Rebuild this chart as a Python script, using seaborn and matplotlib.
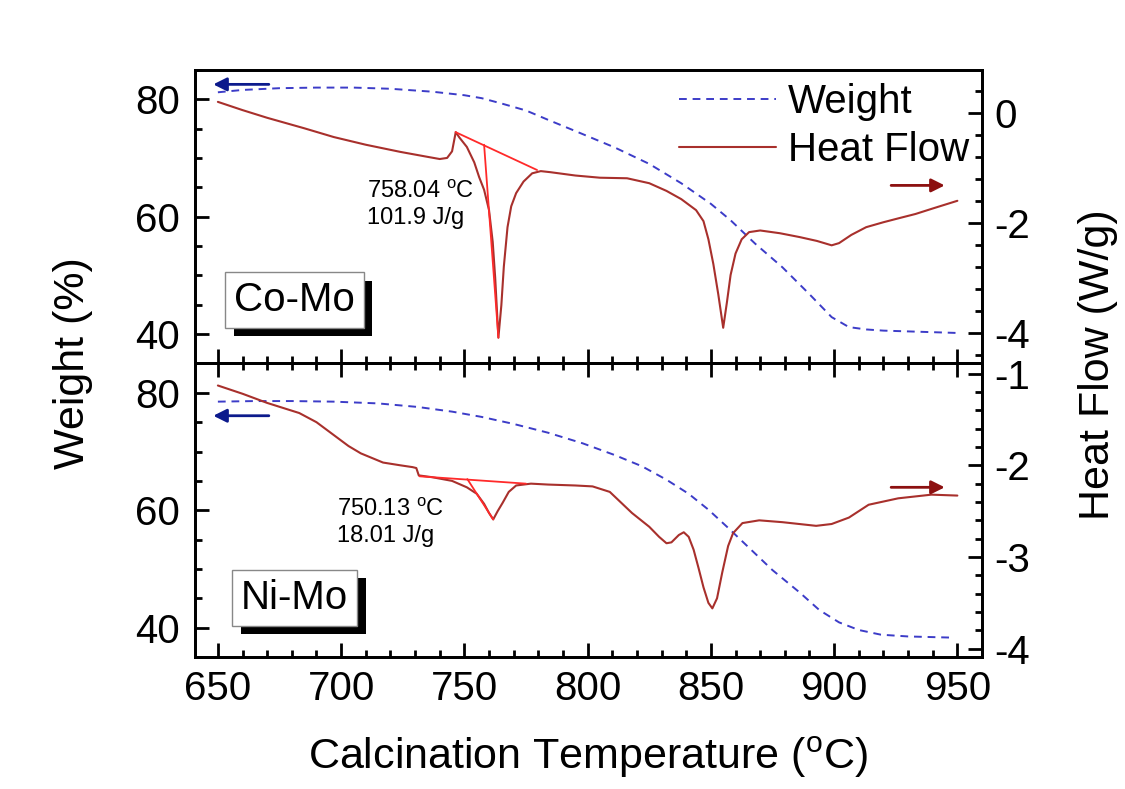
import numpy as np
import pandas as pd
import matplotlib
matplotlib.use("Agg")
import matplotlib.pyplot as plt
import matplotlib.patheffects as pe
from matplotlib.ticker import MultipleLocator
import seaborn as sns

# --- Co-Mo : weight (%) ---
co_w_temp = [650, 660, 675, 690, 705, 720, 737, 750, 757, 765, 775, 784, 795,
             811, 825, 838, 850, 858, 868, 879, 890, 899, 906, 913, 920, 935, 950]
co_w_val = [81.2, 81.6, 81.9, 82.0, 82.0, 81.8, 81.3, 80.7, 80.2, 79.3, 78.1,
            76.5, 74.6, 71.8, 69.0, 65.7, 62.2, 59.4, 55.4, 51.4, 46.8, 42.9,
            41.2, 40.8, 40.6, 40.4, 40.2]

# --- Co-Mo : heat flow (W/g) ---
co_h_temp = [650, 660, 670, 685, 697, 710, 724, 735, 740, 743, 745, 746.5, 748,
             751, 754, 756, 758, 760, 761.5, 762.5, 763.8, 765, 766, 767.5, 769,
             771, 774, 777.5, 781, 785, 795, 805, 816, 825, 832, 838, 844, 847,
             849, 851, 853, 855, 856.5, 858, 860, 862.5, 865.5, 870, 878, 886,
             893, 899, 902, 907, 913, 920, 926, 933, 940, 945, 950]
co_h_val = [0.20, 0.05, -0.09, -0.28, -0.44, -0.58, -0.71, -0.80, -0.84, -0.82,
            -0.70, -0.35, -0.45, -0.62, -0.90, -1.17, -1.40, -1.77, -2.35, -3.0,
            -4.09, -3.5, -2.8, -2.08, -1.70, -1.46, -1.25, -1.10, -1.06, -1.08,
            -1.14, -1.18, -1.19, -1.28, -1.42, -1.57, -1.77, -1.97, -2.3, -2.75,
            -3.3, -3.91, -3.45, -2.95, -2.56, -2.3, -2.17, -2.14, -2.19, -2.26,
            -2.33, -2.41, -2.37, -2.22, -2.08, -1.99, -1.92, -1.84, -1.74, -1.67,
            -1.6]

# --- Ni-Mo : weight (%) ---
ni_w_temp = [650, 665, 680, 697, 715, 731, 745, 757, 770, 784, 798, 811, 822,
             832, 841, 849, 857, 865, 875, 886, 894, 902, 910, 919, 930, 948]
ni_w_val = [78.5, 78.6, 78.6, 78.5, 78.2, 77.6, 76.8, 75.9, 74.7, 73.2, 71.4,
            69.4, 67.5, 65.2, 62.8, 60.1, 57.0, 53.8, 49.8, 46.0, 43.0, 40.9,
            39.6, 38.8, 38.5, 38.3]

# --- Ni-Mo : heat flow (W/g) ---
ni_h_temp = [650, 660, 670, 683, 690, 697, 703, 708, 717, 724, 729, 730.5,
             731.5, 737, 745, 751, 755, 758, 760, 761.7, 763.5, 765.5, 768, 771,
             777, 784, 795, 802, 809, 818, 825, 829, 832, 834, 837, 839, 841,
             843, 845, 847, 849, 850.6, 852.5, 854.6, 857, 859, 862.8, 869.6,
             879, 892.7, 899, 906, 914, 926, 939.5, 950]
ni_h_val = [-1.13, -1.22, -1.32, -1.43, -1.53, -1.67, -1.79, -1.87, -1.97, -2.0,
            -2.02, -2.03, -2.11, -2.13, -2.17, -2.24, -2.31, -2.42, -2.52, -2.59,
            -2.5, -2.41, -2.29, -2.22, -2.20, -2.21, -2.22, -2.23, -2.29, -2.52,
            -2.67, -2.78, -2.85, -2.84, -2.76, -2.73, -2.78, -2.92, -3.12, -3.33,
            -3.50, -3.56, -3.45, -3.17, -2.88, -2.74, -2.63, -2.60, -2.62, -2.66,
            -2.64, -2.57, -2.43, -2.36, -2.32, -2.33]

# peak integration construction lines (temp, heat flow)
co_base_t, co_base_h = [746.4, 779.5], [-0.35, -1.04]
co_drop_t, co_drop_h = [758, 763.8], [-0.58, -4.09]
ni_base_t, ni_base_h = [731.8, 775], [-2.12, -2.20]
ni_drop_t, ni_drop_h = [751.2, 761.7], [-2.15, -2.59]

co_note = "758.04 $^{\\mathrm{o}}$C\n101.9 J/g"
ni_note = "750.13 $^{\\mathrm{o}}$C\n18.01 J/g"

sns.set_style("ticks")
plt.rcParams['font.family'] = ['Liberation Sans', 'DejaVu Sans']
plt.rcParams['mathtext.fontset'] = 'custom'
plt.rcParams['mathtext.rm'] = 'Liberation Sans'
plt.rcParams['mathtext.it'] = 'Liberation Sans'
plt.rcParams['axes.unicode_minus'] = False
for key in ('text.color', 'axes.labelcolor', 'xtick.color', 'ytick.color',
            'axes.edgecolor'):
    plt.rcParams[key] = 'black'

W_COLOR = "#3c3cc8"
H_COLOR = "#a8302c"
FIT_COLOR = "#ff2a2a"

fig = plt.figure(figsize=(11.25, 7.89), dpi=100)
gs = fig.add_gridspec(2, 1, left=0.1733, right=0.8729, top=0.9113,
                      bottom=0.1673, hspace=0)
ax1 = fig.add_subplot(gs[0])
ax2 = fig.add_subplot(gs[1], sharex=ax1)
ax1r = ax1.twinx()
ax2r = ax2.twinx()

panels = [
    (ax1, ax1r, co_w_temp, co_w_val, co_h_temp, co_h_val,
     (co_base_t, co_base_h), (co_drop_t, co_drop_h)),
    (ax2, ax2r, ni_w_temp, ni_w_val, ni_h_temp, ni_h_val,
     (ni_base_t, ni_base_h), (ni_drop_t, ni_drop_h)),
]

for ax, axr, wt, wv, ht, hv, base, drop in panels:
    sns.lineplot(x=wt, y=wv, ax=ax, color=W_COLOR, lw=1.4, errorbar=None)
    ax.lines[-1].set_dashes([4, 3])
    sns.lineplot(x=ht, y=hv, ax=axr, color=H_COLOR, lw=1.5, errorbar=None)
    for seg_t, seg_h in (base, drop):
        axr.plot(seg_t, seg_h, color=FIT_COLOR, lw=1.3)

ax1.set_xlim(640.7, 960)
for ax in (ax1, ax2):
    ax.set_ylim(35, 85)
    ax.yaxis.set_major_locator(MultipleLocator(20))
    ax.yaxis.set_minor_locator(MultipleLocator(5))
    ax.xaxis.set_major_locator(MultipleLocator(50))
    ax.xaxis.set_minor_locator(MultipleLocator(10))
    ax.set_xlabel("")
    ax.set_ylabel("")

ax1r.set_ylim(-4.56, 0.78)
ax1r.yaxis.set_major_locator(MultipleLocator(2))
ax1r.yaxis.set_minor_locator(MultipleLocator(0.4))
ax2r.set_ylim(-4.09, -0.89)
ax2r.yaxis.set_major_locator(MultipleLocator(1))
ax2r.yaxis.set_minor_locator(MultipleLocator(0.2))

for ax in (ax1, ax2, ax1r, ax2r):
    for sp in ax.spines.values():
        sp.set_linewidth(2)
        sp.set_color("black")
    ax.tick_params(which='both', direction='in', width=2, labelsize=29)
    ax.tick_params(which='major', length=10)
    ax.tick_params(which='minor', length=5)

for ax in (ax1, ax2):
    ax.tick_params(axis='y', which='both', left=True, right=False, pad=11)
ax1.tick_params(axis='x', which='both', bottom=True, top=False,
                labelbottom=False)
ax2.tick_params(axis='x', which='both', bottom=True, top=True, pad=9)
for axr in (ax1r, ax2r):
    axr.tick_params(axis='y', which='both', right=True, left=False, pad=9)

# legend
hl = [ax1.lines[0], ax1r.lines[0]]
ax1r.legend(hl, ["Weight", "Heat Flow"], loc='upper right', frameon=False,
            fontsize=29, handlelength=2.4, handletextpad=0.3,
            labelspacing=0.25, borderaxespad=0.1,
            bbox_to_anchor=(1.009, 1.025))

# axis direction arrows
arrow_w = dict(arrowstyle='-|>', color="#0c1a8c", lw=2, mutation_scale=20)
arrow_h = dict(arrowstyle='-|>', color="#8c1010", lw=2, mutation_scale=20)
ax1.annotate("", xy=(647, 82.55), xytext=(671.8, 82.55), arrowprops=arrow_w)
ax2.annotate("", xy=(647, 76.1), xytext=(671.8, 76.1), arrowprops=arrow_w)
ax1r.annotate("", xy=(946, -1.32), xytext=(922, -1.32), arrowprops=arrow_h)
ax2r.annotate("", xy=(946, -2.24), xytext=(922, -2.24), arrowprops=arrow_h)

# peak notes
ax1r.text(710.3, -1.68, co_note, fontsize=17, va='center', ha='left',
          linespacing=1.25)
ax2r.text(698.2, -2.63, ni_note, fontsize=17, va='center', ha='left',
          linespacing=1.25)

# sample labels with shadowed boxes
for ax, label, ypos in ((ax1, "Co-Mo", 45.8), (ax2, "Ni-Mo", 45.1)):
    t = ax.text(681.2, ypos, label, fontsize=29, ha='center', va='center',
                bbox=dict(boxstyle='square,pad=0.22', fc='white',
                          ec='#888888', lw=1), zorder=5)
    t.get_bbox_patch().set_path_effects(
        [pe.withSimplePatchShadow(offset=(6, -6), shadow_rgbFace='black',
                                  alpha=1.0)])

fig.text(0.065, 1 - 363 / 789, "Weight (%)", rotation=90, fontsize=31,
         ha='center', va='center')
fig.text(1098 / 1125, 1 - 365 / 789, "Heat Flow (W/g)", rotation=90,
         fontsize=31, ha='center', va='center')
fig.text(588.5 / 1125, 1 - 757 / 789,
         "Calcination Temperature ($^{\\mathrm{o}}$C)", fontsize=31,
         ha='center', va='center')

fig.savefig("out.png", dpi=100)
